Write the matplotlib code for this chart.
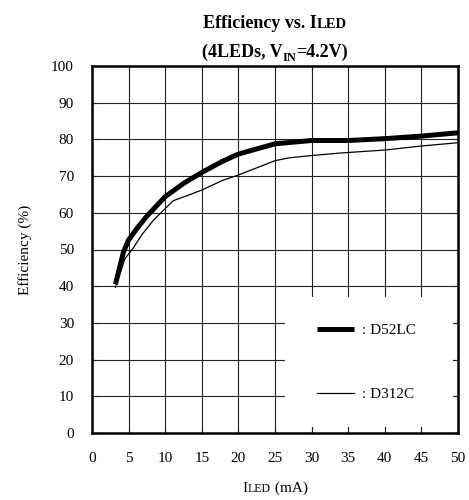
import matplotlib
matplotlib.use('Agg')
import matplotlib.pyplot as plt
from matplotlib.patches import Rectangle

# data
iled = [0, 5, 10, 15, 20, 25, 30, 35, 40, 45, 50]
eff_ticks = [0, 10, 20, 30, 40, 50, 60, 70, 80, 90, 100]

d52lc_x = [3.2, 4.3, 5, 6.2, 7.5, 10, 12.5, 15, 17.8, 20, 25, 30, 35, 40, 45, 50]
d52lc_y = [40.5, 49.3, 52.6, 55.9, 59.1, 64.4, 68, 71, 74, 76, 78.8, 79.7, 79.7, 80.2, 80.9, 81.8]

d312c_x = [3.2, 4.5, 5.6, 6.8, 8.4, 11.1, 12.9, 15, 17.8, 20, 25, 27, 30, 34, 40, 45, 50]
d312c_y = [39.7, 47.5, 50.3, 54, 58, 63.3, 64.6, 66.2, 68.8, 70.3, 74.2, 75, 75.6, 76.3, 77.1, 78.2, 79.1]

series_names = [': D52LC', ': D312C']

plt.rcParams['font.family'] = ['Liberation Serif', 'DejaVu Serif']

W, H = 469, 500
fig = plt.figure(figsize=(W / 100, H / 100), dpi=100)
ax = fig.add_axes([92 / W, 1 - 433 / H, 366 / W, 367 / H])

ax.plot(d52lc_x, d52lc_y, color='black', lw=3.6, solid_capstyle='butt', label=series_names[0], zorder=4)
ax.plot(d312c_x, d312c_y, color='black', lw=0.9, label=series_names[1], zorder=4)

ax.set_xlim(0, 50)
ax.set_ylim(0, 100)
ax.set_xticks(iled)
ax.set_yticks(eff_ticks)
ax.grid(True, color='#222222', lw=0.8)
ax.set_axisbelow(True)
ax.tick_params(direction='in', length=4.5, width=0.8, top=True, right=True, labelsize=11, color='#222222')
ax.tick_params(axis='x', pad=14)
ax.tick_params(axis='y', pad=13)
for s in ax.spines.values():
    s.set_linewidth(1.8)
    s.set_zorder(5)

# white box behind the legend (covers the grid, ticks stay visible)
ax.add_patch(Rectangle((0.527, 0.016), 0.459, 0.355, transform=ax.transAxes,
                       facecolor='white', edgecolor='none', zorder=2.5))

leg = ax.legend(loc='center left', bbox_to_anchor=(0.615, 0.193), fontsize=11, frameon=False,
                borderpad=0, handlelength=2.42, handletextpad=0.5, labelspacing=3.3, borderaxespad=0)
leg.set_zorder(3)

ax.set_ylabel('Efficiency (%)', fontsize=11, labelpad=14)


def rich(pieces, xc, yb):
    # pieces: (text, size, weight, dy) placed one after another, centred at xc (pixels)
    r = fig.canvas.get_renderer()
    objs = []
    total = 0
    for s, size, weight, dy in pieces:
        t = fig.text(0, 0, s, fontsize=size, fontweight=weight, va='baseline', ha='left')
        w = t.get_window_extent(r).width
        objs.append((t, w, dy))
        total += w
    x = xc - total / 2
    for t, w, dy in objs:
        t.set_position((x / W, 1 - (yb - dy) / H))
        x += w


xc = 275
rich([('Efficiency vs. I', 13, 'bold', 0), ('LED', 10.5, 'bold', 0)], xc, 28)
rich([('(4LEDs, V', 13, 'bold', 0), ('IN', 9, 'bold', -4), ('=4.2V)', 13, 'bold', 0)], xc, 57)
rich([('I', 11, 'normal', 0), ('LED', 8.5, 'normal', 0), (' (mA)', 11, 'normal', 0)], xc, 492)

fig.savefig('out.png', dpi=100)
